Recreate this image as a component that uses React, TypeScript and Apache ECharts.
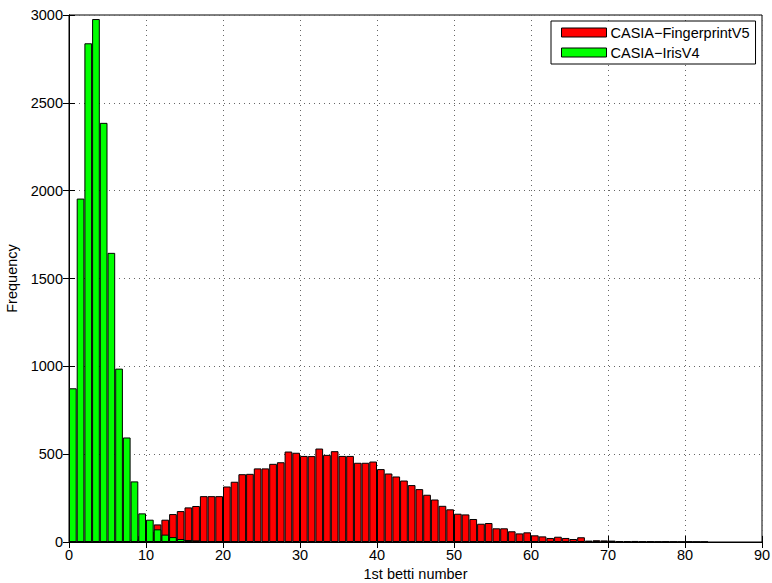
import React, { useEffect, useRef } from "react";
import * as echarts from "echarts";

// Histogram bin counts, bin k covers [k, k+1)
const fingerprintCounts = [
  0, 0, 0, 0, 0, 0, 2, 5, 15, 35, 60,
  100, 127, 159, 176, 197, 205, 261, 261, 261, 316,
  343, 386, 388, 419, 419, 445, 454, 515, 508, 490,
  489, 532, 496, 517, 490, 490, 451, 451, 458, 415,
  390, 373, 350, 324, 301, 269, 242, 206, 186, 161,
  157, 131, 104, 108, 78, 78, 61, 49, 55, 38,
  32, 23, 30, 23, 17, 27, 8, 10, 9, 8,
  5, 4, 6, 3, 4, 2, 3, 2, 1, 2,
  1, 1,
];
const irisCounts = [
  875, 1955, 2839, 2977, 2386, 1646, 987, 595, 345, 163,
  127, 72, 42, 28, 17, 11, 9, 5, 4, 3, 2, 1,
];
const seriesNames = ["CASIA\u2212FingerprintV5", "CASIA\u2212IrisV4"];
const xTitle = "1st betti number";
const yTitle = "Frequency";

const toBins = (arr: number[]) => arr.map((v, k) => [k + 0.5, v]);

const FONT = "'Liberation Sans', Arial, Helvetica, sans-serif";
const FS = 14.5;

export default function App() {
  const ref = useRef<HTMLDivElement>(null);
  useEffect(() => {
    document.body.style.margin = "0";
    const chart = echarts.init(ref.current!, null, { renderer: "svg" });
    const tickStyle = { show: true, inside: true, length: 6, lineStyle: { color: "#000", width: 1 } };
    const split = { show: true, lineStyle: { color: "#666", type: [1, 4] as any, width: 1 } };
    chart.setOption({
      animation: false,
      backgroundColor: "#fff",
      textStyle: { fontFamily: FONT },
      grid: {
        left: 69,
        right: 10,
        top: 15,
        bottom: 41,
        containLabel: false,
        outerBoundsMode: "none",
        show: true,
        borderColor: "#000",
        borderWidth: 1,
        backgroundColor: "transparent",
      },
      legend: {
        orient: "vertical",
        left: 551,
        top: 21,
        itemWidth: 45,
        itemHeight: 9,
        itemGap: 5,
        padding: [4, 6, 4, 10],
        borderColor: "#000",
        borderWidth: 1,
        backgroundColor: "#fff",
        icon: "rect",
        textStyle: { fontSize: FS, color: "#000", fontFamily: FONT, padding: [0, 0, 0, -1], lineHeight: 15 },
        itemStyle: { borderColor: "#000", borderWidth: 1 },
        data: seriesNames,
      },
      xAxis: [
        {
          type: "value",
          min: 0,
          max: 90,
          interval: 10,
          name: xTitle,
          nameLocation: "middle",
          nameGap: 24,
          nameTextStyle: { fontSize: FS, color: "#000", fontFamily: FONT },
          axisLine: { show: true, lineStyle: { color: "#000" } },
          axisTick: tickStyle,
          axisLabel: { fontSize: FS, color: "#000", margin: 5, fontFamily: FONT },
          splitLine: split,
        },
        {
          type: "value",
          position: "top",
          min: 0,
          max: 90,
          interval: 10,
          axisLine: { show: true, lineStyle: { color: "#000" } },
          axisTick: tickStyle,
          axisLabel: { show: false },
          splitLine: { show: false },
        },
      ],
      yAxis: [
        {
          type: "value",
          min: 0,
          max: 3000,
          interval: 500,
          name: yTitle,
          nameLocation: "middle",
          nameGap: 45,
          nameTextStyle: { fontSize: FS, color: "#000", fontFamily: FONT },
          axisLine: { show: true, lineStyle: { color: "#000" } },
          axisTick: tickStyle,
          axisLabel: { fontSize: FS, color: "#000", margin: 6, fontFamily: FONT, formatter: (v: number) => String(v) },
          splitLine: split,
        },
        {
          type: "value",
          position: "right",
          min: 0,
          max: 3000,
          interval: 500,
          axisLine: { show: true, lineStyle: { color: "#000" } },
          axisTick: tickStyle,
          axisLabel: { show: false },
          splitLine: { show: false },
        },
      ],
      series: [
        {
          name: seriesNames[0],
          type: "bar",
          xAxisIndex: 0,
          yAxisIndex: 0,
          barWidth: 7.7,
          barGap: "-100%",
          itemStyle: { color: "#ff0000", borderColor: "#000", borderWidth: 1 },
          data: toBins(fingerprintCounts),
        },
        {
          name: seriesNames[1],
          type: "bar",
          xAxisIndex: 0,
          yAxisIndex: 0,
          barWidth: 7.7,
          barGap: "-100%",
          itemStyle: { color: "#00ff00", borderColor: "#000", borderWidth: 1 },
          data: toBins(irisCounts),
        },
      ],
    });
    return () => chart.dispose();
  }, []);
  return <div ref={ref} style={{ width: 772, height: 583 }} />;
}
